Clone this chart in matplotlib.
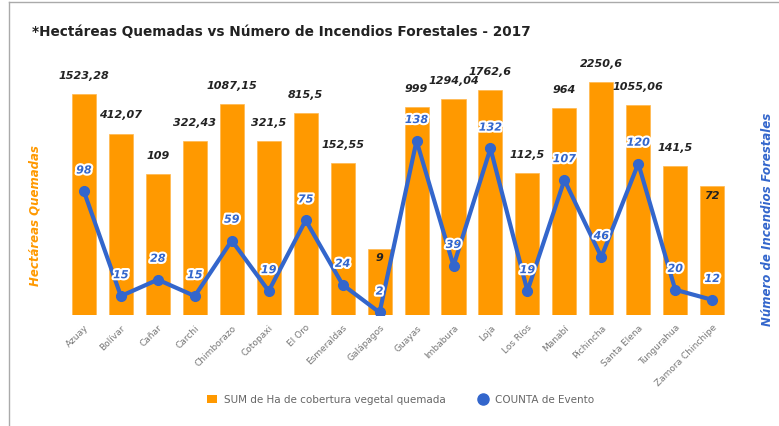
import numpy as np
import matplotlib
matplotlib.use("Agg")
import matplotlib.pyplot as plt
import matplotlib.patheffects as pe
from matplotlib.lines import Line2D
from matplotlib.patches import Patch

ORANGE = "#FF9900"
BLUE = "#3366CC"

provincias = ["Azuay", "Bolívar", "Cañar", "Carchi", "Chimborazo", "Cotopaxi",
              "El Oro", "Esmeraldas", "Galápagos", "Guayas", "Imbabura", "Loja",
              "Los Ríos", "Manabí", "Pichincha", "Santa Elena", "Tungurahua",
              "Zamora Chinchipe"]
hectareas = [1523.28, 412.07, 109, 322.43, 1087.15, 321.5, 815.5, 152.55, 9,
             999, 1294.04, 1762.6, 112.5, 964, 2250.6, 1055.06, 141.5, 72]
eventos = [98, 15, 28, 15, 59, 19, 75, 24, 2, 138, 39, 132, 19, 107, 46, 120, 20, 12]

def fmt(v):
    s = f"{v:.2f}".rstrip("0").rstrip(".")
    return s.replace(".", ",")

fig = plt.figure(figsize=(7.79, 4.26), dpi=100)
ax = fig.add_axes([0.084, 0.2606, 0.854, 0.575])
ax2 = ax.twinx()

x = np.arange(len(provincias))
ax.bar(x, hectareas, width=0.65, color=ORANGE, edgecolor="#FFB84D", linewidth=0.5, zorder=1)
ax.set_yscale("log")
ax.set_ylim(1, 10 ** (245 / 69.4))
ax.set_xlim(-0.5, len(provincias) - 0.5)

# small bars get their label inside the bar
inside = {"Galápagos", "Zamora Chinchipe"}
for xi, v, name in zip(x, hectareas, provincias):
    dy = -7 if name in inside else 13
    ax.annotate(fmt(v), (xi, v), xytext=(0, dy), textcoords="offset points",
                ha="center", va="center", fontsize=8, fontweight="bold",
                fontstyle="italic", color="#222222")

ax2.plot(x, eventos, color=BLUE, linewidth=3, marker="o", markersize=7, zorder=3)
ax2.set_ylim(0, 245 / 1.262)
for xi, v in zip(x, eventos):
    ax2.annotate(str(v), (xi, v), xytext=(0, 15), textcoords="offset points",
                 ha="center", va="center", fontsize=8, fontweight="bold",
                 fontstyle="italic", color=BLUE,
                 path_effects=[pe.withStroke(linewidth=3, foreground="white")])

for a in (ax, ax2):
    for s in a.spines.values():
        s.set_visible(False)
    a.tick_params(left=False, right=False, labelleft=False, labelright=False,
                  bottom=False, length=0)
    a.minorticks_off()
    a.set_yticks([])

ax.set_xticks(x)
ax.set_xticklabels(provincias, rotation=45, ha="right", rotation_mode="anchor",
                   fontsize=6.5, color="#777777")
ax.tick_params(axis="x", pad=6)

fig.text(0.045, 0.495, "Hectáreas Quemadas", rotation=90, ha="center", va="center",
         fontsize=8.5, fontweight="bold", fontstyle="italic", color=ORANGE)
fig.text(0.985, 0.484, "Número de Incendios Forestales", rotation=90, ha="center",
         va="center", fontsize=8.5, fontweight="bold", fontstyle="italic", color=BLUE)

fig.text(0.041, 0.925, "*Hectáreas Quemadas vs Número de Incendios Forestales - 2017",
         ha="left", va="center", fontsize=9.8, fontweight="bold", color="#222222")

handles = [Patch(facecolor=ORANGE, label="SUM de Ha de cobertura vegetal quemada"),
           Line2D([], [], color=BLUE, marker="o", linestyle="none", markersize=8,
                  label="COUNTA de Evento")]
fig.legend(handles=handles, loc="center", bbox_to_anchor=(0.514, 0.062), ncol=2,
           frameon=False, fontsize=7.5, labelcolor="#666666", handlelength=1,
           handletextpad=0.7, columnspacing=3)

# border lines (left and top)
fig.add_artist(Line2D([9 / 779, 9 / 779], [0, 1 - 2 / 426], color="#AAAAAA", linewidth=1))
fig.add_artist(Line2D([9 / 779, 1], [1 - 2 / 426, 1 - 2 / 426], color="#AAAAAA", linewidth=1))

fig.savefig("out.png", dpi=100)
